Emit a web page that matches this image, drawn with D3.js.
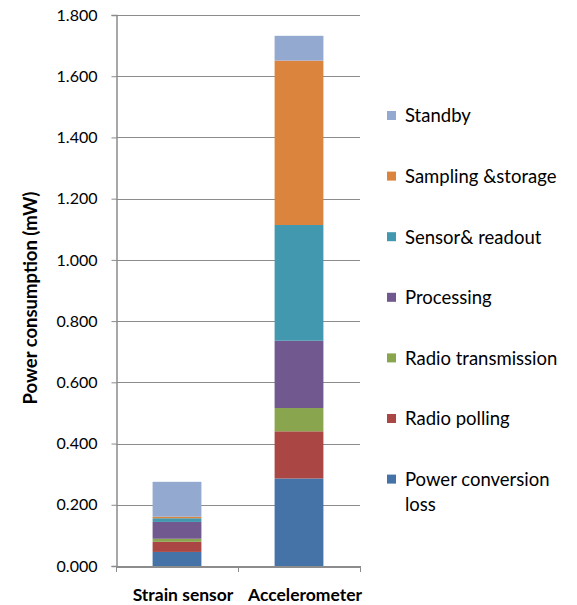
<!DOCTYPE html>
<html><head><meta charset="utf-8">
<script src="https://cdn.jsdelivr.net/npm/d3@7"></script>
<style>body{margin:0;background:#fff;} svg{display:block;font-family:Lato,"Open Sans",sans-serif;}</style>
</head><body><svg id="c" width="577" height="605"></svg>
<script>
const categories = ["Strain sensor", "Accelerometer"];
const seriesNames = ["Power conversion loss", "Radio polling", "Radio transmission", "Processing", "Sensor& readout", "Sampling &storage", "Standby"];
const powerConversionLoss = [0.046, 0.286];
const radioPolling = [0.033, 0.154];
const radioTransmission = [0.010, 0.076];
const processing = [0.055, 0.220];
const sensorReadout = [0.012, 0.378];
const samplingStorage = [0.005, 0.537];
const standby = [0.114, 0.081];
const yTicks = [0, 0.2, 0.4, 0.6, 0.8, 1.0, 1.2, 1.4, 1.6, 1.8];
const colors = ["#4572A7", "#AA4643", "#89A54E", "#71588F", "#4198AF", "#DB843D", "#93A9CF"];

(function() {
const seriesValues = [powerConversionLoss, radioPolling, radioTransmission, processing, sensorReadout, samplingStorage, standby];
const table = categories.map((c, i) => {
  const row = {cat: c};
  seriesNames.forEach((s, j) => row[s] = seriesValues[j][i]);
  return row;
});
const stacked = d3.stack().keys(seriesNames)(table);

const svg = d3.select("#c");
const pL = 116, pR = 360, pT = 15, pB = 566;
const x = d3.scaleBand().domain(categories).range([pL, pR]).paddingInner(0.6).paddingOuter(0.3);
const y = d3.scaleLinear().domain([0, 1.8]).range([pB, pT]);

svg.append("g").selectAll("line").data(yTicks.slice(1)).join("line")
  .attr("x1", pL).attr("x2", pR)
  .attr("y1", d => Math.round(y(d)) + 0.5).attr("y2", d => Math.round(y(d)) + 0.5)
  .attr("stroke", "#8c8c8c").attr("stroke-width", 1);

svg.append("g").selectAll("g").data(stacked).join("g")
  .attr("fill", (d, i) => colors[i])
  .selectAll("rect").data(d => d).join("rect")
  .attr("x", d => x(d.data.cat))
  .attr("width", x.bandwidth())
  .attr("y", d => y(d[1]))
  .attr("height", d => y(d[0]) - y(d[1]));

const yAxis = svg.append("g").attr("transform", `translate(${pL + 0.5},0)`)
  .call(d3.axisLeft(y).tickValues(yTicks).tickFormat(d3.format(".3f")).tickSizeOuter(0).tickSize(5).tickPadding(14));
yAxis.select(".domain").attr("stroke", "#8c8c8c").attr("stroke-width", 1.5);
yAxis.selectAll(".tick line").attr("stroke", "#8c8c8c");
yAxis.selectAll("text").attr("font-size", 16).attr("fill", "#000").attr("font-family", "Lato");

const xAxis = svg.append("g").attr("transform", `translate(0,${pB + 0.5})`)
  .call(d3.axisBottom(x).tickSize(0).tickPadding(22));
xAxis.select(".domain").attr("stroke", "#8c8c8c").attr("stroke-width", 2);
xAxis.selectAll("text").attr("font-size", 17.5).attr("font-weight", "bold").attr("fill", "#000")
  .attr("font-family", "Lato").attr("dx", (d, i) => i === 0 ? 6 : 6);
const xTickPos = [pL, (pL + pR) / 2, pR];
svg.append("g").selectAll("line").data(xTickPos).join("line")
  .attr("x1", d => d + 0.5).attr("x2", d => d + 0.5)
  .attr("y1", pB).attr("y2", pB + 6)
  .attr("stroke", "#8c8c8c");

svg.append("text").attr("transform", `translate(37,298) rotate(-90)`)
  .attr("text-anchor", "middle").attr("font-size", 18.5).attr("font-weight", "bold")
  .text("Power consumption (mW)");

const legendOrder = seriesNames.slice().reverse();
const legendColors = colors.slice().reverse();
const lg = svg.append("g").selectAll("g").data(legendOrder).join("g")
  .attr("transform", (d, i) => `translate(387,${116 + i * 60.6})`);
lg.append("rect").attr("x", 0).attr("y", -5).attr("width", 9).attr("height", 9).attr("fill", (d, i) => legendColors[i]);
lg.append("text").attr("x", 18).attr("y", 0).attr("dy", "0.35em").attr("font-size", 18.5).attr("fill", "#000")
  .each(function(d) {
    const t = d3.select(this);
    if (d === "Power conversion loss") {
      t.append("tspan").attr("x", 18).text("Power conversion");
      t.append("tspan").attr("x", 18).attr("dy", 25).text("loss");
    } else t.text(d);
  });
})();
</script>
</body></html>
